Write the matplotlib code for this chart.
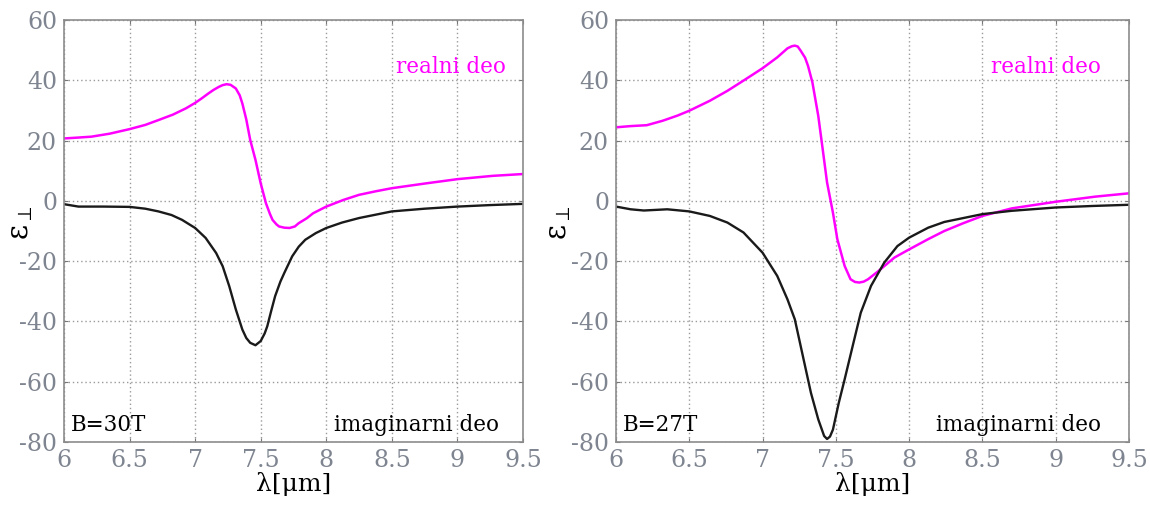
import matplotlib.pyplot as plt

# B=30T, real part (magenta) and imaginary part (black)
lam_re_30 = [6.0, 6.11, 6.21, 6.35, 6.5, 6.62, 6.72, 6.83, 6.93, 7.0, 7.05, 7.1, 7.14, 7.18, 7.21, 7.24,
             7.27, 7.31, 7.34, 7.36, 7.39, 7.42, 7.46, 7.5, 7.54, 7.57, 7.59, 7.62, 7.64, 7.68, 7.72,
             7.76, 7.79, 7.85, 7.9, 8.0, 8.13, 8.25, 8.38, 8.5, 8.63, 8.76, 9.0, 9.27, 9.5]
re_30 = [20.7, 21.0, 21.3, 22.3, 23.8, 25.2, 26.8, 28.6, 30.7, 32.5, 34.0, 35.6, 36.8, 37.8, 38.4, 38.7,
         38.5, 37.3, 35.0, 32.3, 27.0, 20.2, 13.6, 5.8, -0.8, -4.3, -6.3, -7.8, -8.5, -8.9, -9.0,
         -8.5, -7.4, -5.8, -4.1, -1.9, 0.3, 2.0, 3.2, 4.2, 5.0, 5.8, 7.2, 8.3, 8.9]
lam_im_30 = [6.0, 6.11, 6.3, 6.5, 6.62, 6.72, 6.82, 6.9, 7.0, 7.08, 7.16, 7.21, 7.26, 7.31, 7.36, 7.39,
             7.42, 7.46, 7.5, 7.53, 7.55, 7.58, 7.61, 7.65, 7.68, 7.74, 7.79, 7.84, 7.92, 8.0, 8.12,
             8.25, 8.5, 8.75, 9.0, 9.25, 9.5]
im_30 = [-1.1, -1.9, -1.9, -2.0, -2.6, -3.5, -4.7, -6.3, -9.0, -12.3, -17.3, -21.7, -28.3, -36.0, -42.7, -45.5,
         -47.1, -47.9, -46.5, -44.0, -41.6, -36.5, -31.6, -26.8, -23.9, -18.4, -15.2, -12.9, -10.7, -9.0, -7.2,
         -5.7, -3.5, -2.6, -1.9, -1.4, -1.0]

# B=27T
lam_re_27 = [6.0, 6.1, 6.21, 6.32, 6.42, 6.5, 6.64, 6.76, 6.87, 7.0, 7.1, 7.17, 7.2, 7.22, 7.24, 7.26,
             7.29, 7.31, 7.34, 7.38, 7.41, 7.44, 7.48, 7.51, 7.56, 7.6, 7.63, 7.66, 7.69, 7.72, 7.79,
             7.9, 8.0, 8.13, 8.24, 8.37, 8.5, 8.7, 9.0, 9.27, 9.5]
re_27 = [24.4, 24.8, 25.1, 26.6, 28.3, 29.9, 33.2, 36.5, 39.9, 44.0, 47.6, 50.6, 51.3, 51.5, 51.2, 49.8,
         47.5, 44.8, 39.3, 28.2, 17.2, 6.1, -3.9, -12.7, -21.6, -26.0, -26.9, -27.1, -26.8, -26.0, -23.3,
         -18.8, -16.1, -12.7, -10.0, -7.4, -5.0, -2.5, -0.3, 1.4, 2.5]
lam_im_27 = [6.0, 6.1, 6.19, 6.35, 6.5, 6.64, 6.76, 6.87, 7.0, 7.1, 7.17, 7.22, 7.27, 7.33, 7.38, 7.42,
             7.44, 7.46, 7.48, 7.52, 7.56, 7.62, 7.67, 7.74, 7.83, 7.92, 8.0, 8.13, 8.24, 8.5, 8.7,
             9.0, 9.25, 9.5]
im_27 = [-1.9, -2.8, -3.2, -2.8, -3.5, -5.0, -7.2, -10.5, -17.2, -24.9, -32.7, -39.3, -50.4, -63.7, -72.5, -78.0,
         -79.0, -78.2, -75.9, -67.0, -59.2, -47.1, -37.1, -28.2, -20.5, -15.0, -12.2, -8.9, -7.0, -4.4, -3.3,
         -2.2, -1.7, -1.3]

xticks = [6, 6.5, 7, 7.5, 8, 8.5, 9, 9.5]
xticklabels = ['6', '6.5', '7', '7.5', '8', '8.5', '9', '9.5']
yticks = [-80, -60, -40, -20, 0, 20, 40, 60]

plt.rcParams['font.family'] = ['DejaVu Serif']
plt.rcParams['mathtext.fontset'] = 'dejavuserif'
plt.rcParams['axes.unicode_minus'] = False

fig = plt.figure(figsize=(11.5, 5.11), dpi=100)
ax1 = fig.add_axes([64 / 1150, 1 - 442 / 511, 459 / 1150, 422 / 511])
ax2 = fig.add_axes([616 / 1150, 1 - 442 / 511, 513 / 1150, 422 / 511])

panels = [
    (ax1, lam_re_30, re_30, lam_im_30, im_30, 'B=30T', 8.53, 8.06, -0.063),
    (ax2, lam_re_27, re_27, lam_im_27, im_27, 'B=27T', 8.56, 8.18, -0.083),
]

for ax, lr, r, li, im, blabel, xre, xim, ylab_x in panels:
    ax.plot(lr, r, color='#ff00ff', lw=1.8, solid_joinstyle='round')
    ax.plot(li, im, color='#1a1a1a', lw=1.7, solid_joinstyle='round')
    ax.set_xlim(6, 9.5)
    ax.set_ylim(-80, 60)
    ax.set_xticks(xticks)
    ax.set_xticklabels(xticklabels)
    ax.set_yticks(yticks)
    ax.grid(True, color='#9a9a9a', linestyle=(0, (1, 2)), linewidth=1.0)
    ax.tick_params(direction='in', length=3, color='#777777', labelcolor='#7f8590',
                   labelsize=17, top=True, right=True, pad=5)
    for s in ax.spines.values():
        s.set_color('#8c8c8c')
        s.set_linewidth(1.2)
    ax.set_xlabel('λ[μm]', fontsize=18, labelpad=0)
    ax.set_ylabel('ε' + r'$_{\perp}$', fontsize=21)
    ax.yaxis.set_label_coords(ylab_x, 0.52)
    ax.text(xre, 44.5, 'realni deo', color='#ff00ff', fontsize=15.5, va='center')
    ax.text(xim, -74.3, 'imaginarni deo', color='black', fontsize=15.5, va='center')
    ax.text(6.05, -74.3, blabel, color='black', fontsize=15.5, va='center')

fig.savefig('out.png', dpi=100)
